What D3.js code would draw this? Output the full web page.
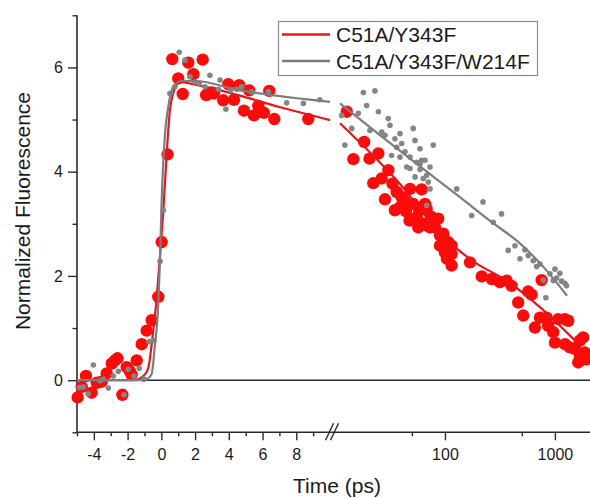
<!DOCTYPE html>
<html>
<head>
<meta charset="utf-8">
<script src="https://cdn.jsdelivr.net/npm/d3@7/dist/d3.min.js"></script>
<style>
  html, body { margin: 0; padding: 0; background: #fff; }
  svg { display: block; }
  text { font-family: "Liberation Sans", Arial, sans-serif; fill: #1a1a1a; }
</style>
</head>
<body>
<svg id="chart" width="590" height="498"></svg>
<script>
// ---------------- data ----------------
const seriesNames = ["C51A/Y343F", "C51A/Y343F/W214F"];

const xTicksLinear = [-4, -2, 0, 2, 4, 6, 8];
const xMinorLinear = [-5, -3, -1, 1, 3, 5, 7, 9];
const xTicksLog = [100, 1000];
const xMinorLog = [50, 500];
const yTicks = [0, 2, 4, 6];
const yMinor = [-1, 1, 3, 5, 7];

// [time (ps), normalized fluorescence]
const redPoints = [
  [-4.96,-0.33],[-4.72,-0.13],[-4.47,0.08],[-4.13,-0.24],[-3.83,-0.05],[-3.54,-0.03],[-3.24,0.13],
  [-2.94,0.32],[-2.75,0.38],[-2.6,0.42],[-2.31,-0.28],[-2.05,0.25],[-1.86,0.17],[-1.76,0.10],
  [-1.46,0.38],[-1.16,0.69],[-0.87,0.95],[-0.57,1.15],[-0.18,1.60],[0.02,2.65],[0.37,4.33],
  [0.65,6.16],[1.0,5.79],[1.27,5.49],[1.6,6.09],[1.9,5.87],[2.45,6.15],[2.65,5.47],[2.78,5.49],
  [3.0,5.52],[3.12,5.5],[3.67,5.37],[3.97,5.68],[4.31,5.38],[4.62,5.66],[4.9,5.17],[5.21,5.56],
  [5.49,5.08],[5.75,5.26],[6.08,5.13],[6.4,5.55],[6.7,5.01],[8.71,5.01],
  [12.8,5.15],[14.7,4.24],[18.4,4.57],[20.6,4.25],[24.8,4.35],[22.3,3.78],[26.6,3.87],[30.6,4.03],
  [28.5,3.47],[33.3,3.77],[36.4,3.61],[40.4,3.51],[35.1,3.26],[42.4,3.45],[48.1,3.67],[44.2,3.24],
  [51.5,3.38],[61.4,3.66],[55.3,3.13],[47.6,3.06],[58.4,3.26],[68.2,3.29],[75.7,3.13],[63.5,3.0],
  [73.1,2.93],[81.1,2.93],[96.5,2.81],[90.1,2.78],[100,2.68],[107,2.65],[115,2.58],[90.1,2.58],
  [100,2.45],[115,2.42],[104,2.33],[115,2.20],[86.9,3.10],[57.2,2.93],[68.2,2.97],[78.4,3.10],
  [65.8,3.38],[39,3.32],[43.3,3.38],
  [169,2.26],[216,1.99],[266,1.94],[316,1.88],[364,1.91],[404,1.81],[572,1.70],[614,1.64],
  [464,1.49],[515,1.24],[731,1.20],[658,1.01],[841,1.20],[869,1.04],[966,0.92],[1000,0.72],
  [1072,1.17],[1233,1.17],[1321,1.14],[1233,0.69],[1368,0.63],[1520,0.60],[1687,0.76],[1808,0.82],
  [1687,0.47],[1874,0.53],[1942,0.40],[1630,0.34],[757,1.92]
];

const grayPoints = [
  [-4.86,-0.14],[-4.63,-0.13],[-4.33,-0.26],[-4.03,0.29],[-3.64,-0.01],[-3.44,0.02],[-3.14,-0.15],
  [-2.85,0.08],[-2.55,0.17],[-2.21,-0.28],[-1.96,0.21],[-1.62,0.08],[-1.31,0.23],[-1.03,0.02],
  [-0.71,0.74],[-0.44,0.76],[-0.08,2.28],[0.12,3.26],[0.51,5.5],[0.81,5.63],[1.06,6.29],[1.4,6.14],
  [1.7,5.82],[2.0,5.72],[2.25,5.69],[2.59,5.63],[2.88,5.85],[3.48,5.76],[3.38,5.58],[3.83,5.2],
  [4.11,5.56],[4.47,5.58],[4.76,5.63],[5.36,5.53],[6.34,5.53],[7.43,5.32],[8.42,5.31],[9.40,5.38],
  [18.1,5.52],[23.1,5.55],[11.5,5.08],[12.3,4.51],[14.2,4.83],[16.3,5.12],[19.4,5.27],[20.8,4.79],
  [24.8,5.15],[26.6,4.76],[30.5,5.02],[31.6,4.89],[28.5,4.70],[35.1,4.63],[39,4.73],[36.4,4.47],
  [40.4,4.54],[51.5,4.83],[53.4,4.60],[59.3,4.44],[78.3,4.51],[44.9,4.09],[59.3,4.15],[65.8,4.22],
  [73.1,4.09],[68.2,3.93],[43.3,4.38],[48.1,4.28],[39,4.28],[55.3,4.18],[61.4,4.22],[53.4,3.90],
  [63.5,3.87],[70.5,3.80],[73.1,3.67],[59.3,4.04],[48.1,4.06],[32.7,4.31],[68.2,3.35],
  [128,3.67],[222,3.42],[175,3.16],[327,3.19],[275,3.03],[376,2.49],[433,2.58],[481,2.33],
  [533,2.50],[572,2.39],[635,2.29],[682,2.18],[731,2.23],[783,1.92],[901,2.04],[1000,2.13],
  [1110,2.05],[1036,1.96],[1151,1.90],[1233,1.86],[1277,1.81],[966,1.91],[828,1.58]
];

// fitted curves
const redFit = [
  [-5,0],[-1.6,0],[-1.3,0.03],[-1.0,0.1],[-0.77,0.24],[-0.5,0.89],[-0.3,1.5],[-0.1,2.3],
  [0.12,3.26],[0.32,4.35],[0.51,5.18],[0.7,5.5],[0.9,5.66],[1.1,5.72],[2,5.67],[4.66,5.46],
  [7,5.24],[10,4.99],
  [11.1,4.93],[36.6,3.83],[100,2.72],[187,2.26],[363,1.91],[730,1.40],[1590,0.72]
];
const grayFit = [
  [-5,0],[-1.1,0],[-0.8,0.03],[-0.57,0.12],[-0.4,0.6],[-0.18,1.47],[-0.08,2.3],[0.02,3.45],
  [0.22,4.73],[0.41,5.24],[0.71,5.63],[1.2,5.74],[2,5.74],[4.66,5.56],[10,5.34],
  [11.1,5.31],[25.6,4.70],[59.4,4.10],[136.9,3.51],[256,3.06],[483,2.62],[812,2.14],[1289,1.62]
];

// ---------------- layout ----------------
const colors = { red: "#ff0a0a", redLine: "#e3171c", gray: "#858585", grayLine: "#7d7d7d", axis: "#2a2a2a" };
const linearMax = 10;

const svg = d3.select("#chart");
const xLin = d3.scaleLinear().domain([-5, linearMax]).range([77, 330]);
const xLog = d3.scaleLog().domain([10, 2000]).range([335, 588]);
const X = t => (t <= linearMax ? xLin(t) : xLog(t));
const y = d3.scaleLinear().domain([-1, 7]).range([432.3, 15.3]);

const fontFam = '"Liberation Sans", Arial, sans-serif';
const fmt = d => String(d);

// axes
function styleAxis(g) {
  g.select(".domain").remove();
  g.selectAll(".tick line").attr("stroke", colors.axis).attr("stroke-width", 1.4);
  g.selectAll(".tick text").style("font-family", fontFam).style("font-size", "16px").attr("fill", "#1a1a1a");
}
const x0 = y(-1);
svg.append("g").attr("transform", `translate(0,${x0})`)
  .call(d3.axisBottom(xLin).tickValues(xTicksLinear).tickSize(8).tickPadding(8).tickFormat(fmt)).call(styleAxis);
svg.append("g").attr("transform", `translate(0,${x0})`)
  .call(d3.axisBottom(xLin).tickValues(xMinorLinear).tickSize(4).tickFormat("")).call(styleAxis);
svg.append("g").attr("transform", `translate(0,${x0})`)
  .call(d3.axisBottom(xLog).tickValues(xTicksLog).tickSize(8).tickPadding(8).tickFormat(fmt)).call(styleAxis);
svg.append("g").attr("transform", `translate(0,${x0})`)
  .call(d3.axisBottom(xLog).tickValues(xMinorLog).tickSize(4).tickFormat("")).call(styleAxis);

svg.append("g").attr("transform", `translate(${xLin(-5)},0)`)
  .call(d3.axisLeft(y).tickValues(yTicks).tickSize(9).tickPadding(5).tickFormat(fmt)).call(styleAxis);
svg.append("g").attr("transform", `translate(${xLin(-5)},0)`)
  .call(d3.axisLeft(y).tickValues(yMinor).tickSize(4.5).tickFormat("")).call(styleAxis);

// axis lines
svg.append("line").attr("x1", xLin(-5)).attr("x2", xLin(-5)).attr("y1", y(7)).attr("y2", y(-1))
  .attr("stroke", colors.axis).attr("stroke-width", 1.6);
svg.append("line").attr("x1", xLin(-5)).attr("x2", 590).attr("y1", y(-1)).attr("y2", y(-1))
  .attr("stroke", colors.axis).attr("stroke-width", 1.6);
// break marks
const bx = (xLin(linearMax) + xLog(10)) / 2;
[-3, 2].forEach(o => {
  svg.append("line").attr("x1", bx + o - 4).attr("y1", y(-1) + 8).attr("x2", bx + o + 4).attr("y2", y(-1) - 9)
    .attr("stroke", colors.axis).attr("stroke-width", 1.4);
});
// zero line
svg.append("line").attr("x1", xLin(-5)).attr("x2", 590).attr("y1", y(0)).attr("y2", y(0))
  .attr("stroke", colors.axis).attr("stroke-width", 1.6);

// axis titles
svg.append("text").attr("x", 337).attr("y", 492.5).attr("text-anchor", "middle")
  .style("font-size", "21px").text("Time (ps)");
svg.append("text").attr("transform", "translate(30,211) rotate(-90)").attr("text-anchor", "middle")
  .style("font-size", "21px").text("Normalized Fluorescence");

// points + fits
const line = d3.line().x(d => X(d[0])).y(d => y(d[1])).curve(d3.curveMonotoneX);
function drawFit(data, color) {
  const lin = data.filter(d => d[0] <= linearMax);
  const lg = data.filter(d => d[0] > linearMax);
  [lin, lg].forEach(seg => svg.append("path").attr("d", line(seg)).attr("fill", "none")
    .attr("stroke", color).attr("stroke-width", 2.2));
}

svg.append("g").selectAll("circle").data(redPoints).join("circle")
  .attr("cx", d => X(d[0])).attr("cy", d => y(d[1])).attr("r", 6.2).attr("fill", colors.red);
drawFit(redFit, colors.redLine);
svg.append("g").selectAll("circle").data(grayPoints).join("circle")
  .attr("cx", d => X(d[0])).attr("cy", d => y(d[1])).attr("r", 2.8).attr("fill", colors.gray);
drawFit(grayFit, colors.grayLine);

// legend
const lg = svg.append("g");
lg.append("rect").attr("x", 278.5).attr("y", 21.5).attr("width", 259).attr("height", 54)
  .attr("fill", "#fff").attr("stroke", "#8a8a8a").attr("stroke-width", 1.2);
const legendItems = [
  { name: seriesNames[0], color: colors.redLine, y: 34.5 },
  { name: seriesNames[1], color: colors.grayLine, y: 61 }
];
legendItems.forEach(it => {
  lg.append("line").attr("x1", 282).attr("x2", 330).attr("y1", it.y).attr("y2", it.y)
    .attr("stroke", it.color).attr("stroke-width", 2.4);
  lg.append("text").attr("x", 336).attr("y", it.y + 7.5).style("font-size", "21px").text(it.name);
});
</script>
</body>
</html>
